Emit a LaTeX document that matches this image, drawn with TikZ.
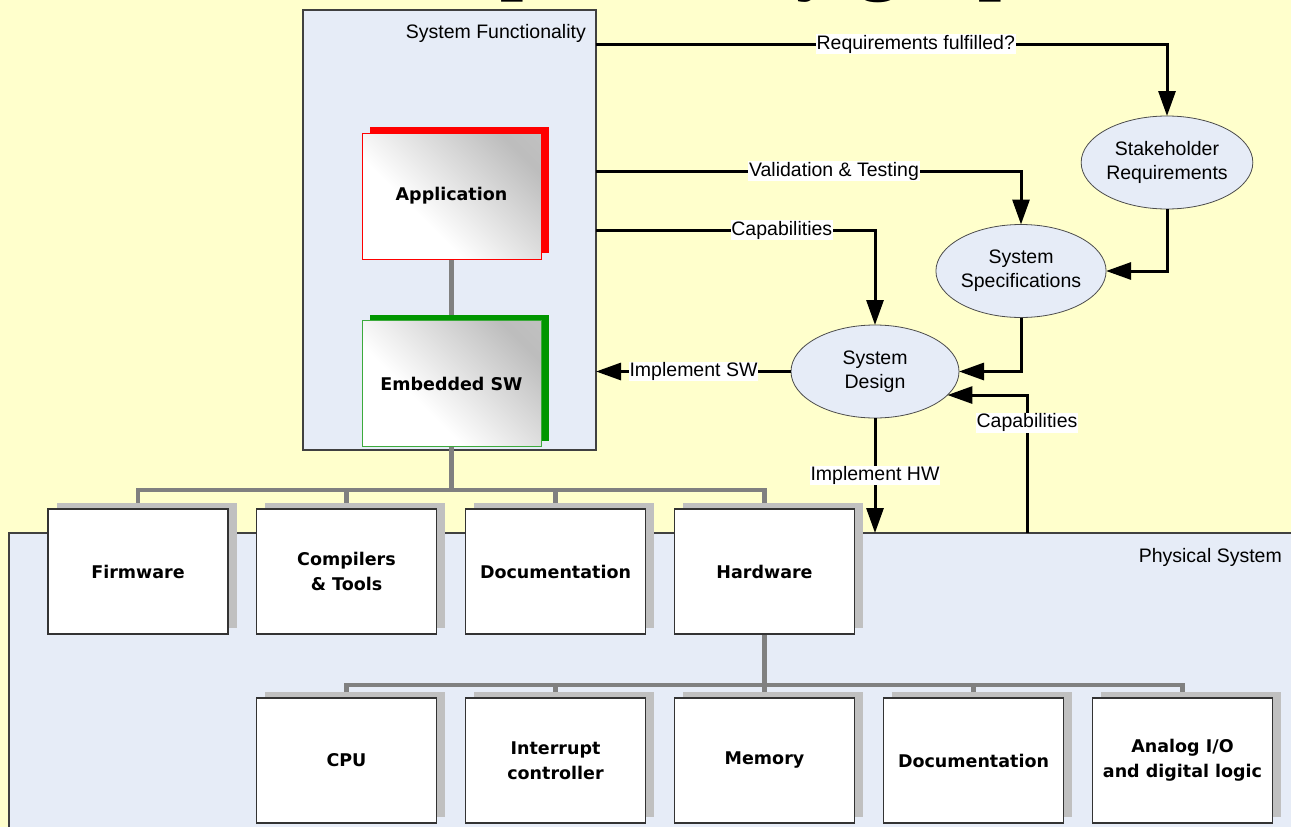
\documentclass[tikz,border=0pt]{standalone}
\usepackage{fontspec}
\setmainfont{Liberation Sans}
\newfontfamily\boxfont{DejaVu Sans}
\newfontfamily\titlefont{Liberation Serif}
\usetikzlibrary{arrows.meta,shapes.geometric,shadows,calc}

\definecolor{paper}{RGB}{255,255,204}
\definecolor{panel}{RGB}{230,236,247}
\definecolor{treegray}{RGB}{128,128,128}
\definecolor{shadegray}{RGB}{192,192,192}
\definecolor{appred}{RGB}{255,0,0}
\definecolor{swgreen}{RGB}{0,150,0}
\definecolor{swedge}{RGB}{60,170,60}

% white on the lower left, grey towards the upper right
\pgfdeclareverticalshading{swsheen}{100bp}{color(0bp)=(white); color(38bp)=(white);
  color(76bp)=(black!26); color(100bp)=(black!22)}

\pgfdeclarelayer{backdrop}
\pgfdeclarelayer{panels}
\pgfdeclarelayer{tree}
\pgfsetlayers{backdrop,panels,tree,main}

\tikzset{
  panelbox/.style={draw=black!75, line width=1.2pt, fill=panel, rectangle,
    inner sep=0pt, outer sep=0pt},
  panelname/.style={font=\fontsize{19.5}{22}\selectfont, inner sep=0pt},
  unit/.style={draw=black!80, line width=1.8pt, fill=white,
    minimum width=180pt, minimum height=125pt, inner sep=2pt, outer sep=0pt,
    align=center, font=\boxfont\bfseries\fontsize{17.5}{25}\selectfont,
    general shadow={fill=shadegray, shadow xshift=8.5pt, shadow yshift=6.5pt}},
  swlayer/.style={line width=1pt, minimum width=179pt, minimum height=126pt,
    inner sep=0pt, outer sep=0pt, align=center,
    font=\boxfont\bfseries\fontsize{17.5}{25}\selectfont,
    shade, shading=swsheen, shading angle=-45,
    general shadow={fill=#1, shadow xshift=8pt, shadow yshift=6pt}},
  phase/.style={ellipse, draw=black!70, line width=0.8pt, fill=panel,
    minimum width=168pt, minimum height=93pt, inner sep=0pt, outer sep=0pt,
    align=center, font=\fontsize{19.5}{24}\selectfont},
  tree/.style={draw=treegray, line width=4.5pt, line join=miter},
  flow/.style={draw=black, line width=3pt, line join=miter,
    -{Triangle[length=25pt,width=17pt]}},
  lbl/.style={fill=white, inner sep=0.8pt, font=\fontsize{19.5}{22}\selectfont},
}

\begin{document}
\begin{tikzpicture}[x=1pt,y=-1pt]
\useasboundingbox (0,0) rectangle (1291,827);
\clip (0,0) rectangle (1291,827);

\begin{pgfonlayer}{backdrop}
  \fill[paper] (0,0) rectangle (1291,827);
\end{pgfonlayer}

% heading, mostly above the visible area
\node[anchor=base west, inner sep=0pt,
      font=\titlefont\bfseries\fontsize{83}{90}\selectfont] (title)
      at (404,-16) {Dependency graph};

% the two domains
\begin{pgfonlayer}{panels}
  \node[panelbox, minimum width=293pt, minimum height=440pt] (sf) at (449.5,230) {};
  \node[panelbox, minimum width=1300pt, minimum height=310pt, anchor=north west]
       (phys) at (9,533) {};
\end{pgfonlayer}
\node[panelname, anchor=base east] (sfname) at (586,38) {System Functionality};
\node[panelname, anchor=base east] (physname) at (1282,562) {Physical System};

% software stack
\node[swlayer=appred, draw=appred] (app) at (451.5,196) {Application};
\node[swlayer=swgreen, draw=swedge] (emb) at (451.5,383.5) {Embedded SW};

% first level of the physical system
\node[unit] (fw)  at (138,571.5)   {Firmware};
\node[unit] (cmp) at (346.5,571.5) {Compilers\\\& Tools};
\node[unit] (doc) at (555.5,571.5) {Documentation};
\node[unit] (hw)  at (764.5,571.5) {Hardware};

% hardware parts
\node[unit] (cpu)  at (346.5,760.5)  {CPU};
\node[unit] (intc) at (555.5,760.5)  {Interrupt\\controller};
\node[unit] (mem)  at (764.5,760.5)  {Memory};
\node[unit] (hdoc) at (973.5,760.5)  {Documentation};
\node[unit] (ana)  at (1182.5,760.5) {Analog I/O\\and digital logic};

% decomposition tree
\coordinate (bus1) at (451.5,490);
\coordinate (bus2) at (764.5,685);
\begin{pgfonlayer}{tree}
  \draw[tree] (app) -- (emb);
  \draw[tree] (emb.south) -- (bus1);
  \draw[tree] (fw.north) |- (bus1) -| (hw.north);
  \draw[tree] (cmp.north) -- (cmp.north |- bus1);
  \draw[tree] (doc.north) -- (doc.north |- bus1);
  \draw[tree] (hw.south) -- (bus2);
  \draw[tree] (cpu.north) |- (bus2) -| (ana.north);
  \draw[tree] (intc.north) -- (intc.north |- bus2);
  \draw[tree] (mem.north) -- (mem.north |- bus2);
  \draw[tree] (hdoc.north) -- (hdoc.north |- bus2);
\end{pgfonlayer}

% development phases
\node[phase] (stake)  at (1167,162.5) {Stakeholder\\Requirements};
\node[phase] (spec)   at (1021,271)   {System\\Specifications};
\node[phase] (design) at (875,371.5)  {System\\Design};

% flows between phases and domains
\coordinate (rfsrc)  at (596,44);
\coordinate (vtsrc)  at (596,171);
\coordinate (capsrc) at (596,230);
\coordinate (hwcap)  at (1027,533);

\draw[flow] (rfsrc) -| node[lbl, pos=0.28] {Requirements fulfilled?} (stake.north);
\draw[flow] (vtsrc) -| node[lbl, pos=0.28] {Validation \& Testing} (spec.north);
\draw[flow] (capsrc) -| node[lbl, pos=0.333] {Capabilities} (design.north);
\draw[flow] (stake.south) |- (spec.east);
\draw[flow] (spec.south) |- (design.east);
\draw[flow] (hwcap) |- node[lbl, pos=0.4] {Capabilities} (design.-18);
\draw[flow] (design.west) -- node[lbl] {Implement SW} (design.west -| sf.east);
\draw[flow] (design.south) -- node[lbl] {Implement HW} (design.south |- phys.north);
\end{tikzpicture}
\end{document}
